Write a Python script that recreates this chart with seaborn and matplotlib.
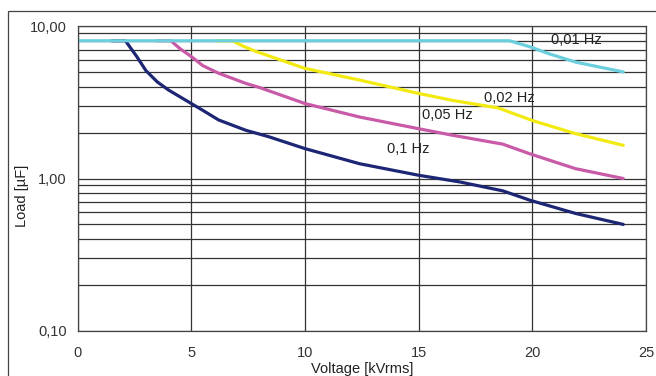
import numpy as np
import pandas as pd
import matplotlib
matplotlib.use("Agg")
import matplotlib.pyplot as plt
from matplotlib.patches import Rectangle
import seaborn as sns

# curves (voltage in kVrms, load in uF)
volt_01 = [1.5, 2.1, 2.6, 3.0, 3.5, 4.0, 5.0, 5.5, 6.2, 7.4, 8.4, 10.0, 12.4, 15.0, 16.8, 18.7, 19.9, 21.9, 24.0]
load_01 = [8.0, 8.0, 6.3, 5.1, 4.3, 3.8, 3.1, 2.8, 2.42, 2.07, 1.88, 1.57, 1.25, 1.05, 0.95, 0.83, 0.72, 0.59, 0.50]

volt_005 = [3.5, 4.1, 4.5, 5.0, 5.5, 6.2, 7.4, 8.0, 10.0, 12.4, 15.0, 16.5, 18.7, 19.9, 21.9, 24.0]
load_005 = [8.0, 8.0, 7.1, 6.3, 5.5, 4.9, 4.2, 3.95, 3.1, 2.53, 2.12, 1.92, 1.68, 1.45, 1.16, 1.0]

volt_002 = [6.1, 6.8, 7.3, 7.85, 8.5, 10.0, 12.4, 15.0, 16.5, 18.5, 20.0, 21.9, 24.0]
load_002 = [8.0, 8.0, 7.35, 6.8, 6.3, 5.27, 4.42, 3.61, 3.25, 2.9, 2.4, 1.97, 1.65]

volt_001 = [0.0, 19.0, 19.9, 20.7, 21.9, 22.9, 24.0]
load_001 = [8.0, 8.0, 7.3, 6.6, 5.8, 5.4, 5.0]

freqs = ["0,1 Hz", "0,05 Hz", "0,02 Hz", "0,01 Hz"]
colors = ["#1d2675", "#c85aa8", "#f2ea12", "#6ccfde"]
label_x = [13.6, 15.16, 17.86, 20.8]
label_y = [1.55, 2.6, 3.39, 8.1]

x_ticks = [0, 5, 10, 15, 20, 25]
y_ticks = [0.1, 1, 10]
y_tick_labels = ["0,10", "1,00", "10,00"]

frames = []
for f, v, l in zip(freqs, [volt_01, volt_005, volt_002, volt_001],
                   [load_01, load_005, load_002, load_001]):
    frames.append(pd.DataFrame({"voltage": v, "load": l, "freq": f}))
df = pd.concat(frames, ignore_index=True)

sns.set_style("white")
plt.rcParams["font.family"] = ["Liberation Sans", "DejaVu Sans"]

fig = plt.figure(figsize=(6.56, 3.76), dpi=100)
ax = fig.add_axes([77.7 / 656, 1 - 331 / 376, (646 - 77.7) / 656, (331 - 26) / 376])

grid_c = "#333333"
fs = 10.5
ax.set_yscale("log")
ax.set_xlim(0, 25)
ax.set_ylim(0.1, 10)
ax.set_xticks(x_ticks)
ax.set_yticks(y_ticks)
ax.set_yticklabels(y_tick_labels)
ax.grid(which="major", axis="x", color=grid_c, lw=0.9)
ax.grid(which="both", axis="y", color=grid_c, lw=0.9)
ax.set_axisbelow(True)

sns.lineplot(data=df, x="voltage", y="load", hue="freq", hue_order=freqs,
             palette=dict(zip(freqs, colors)), estimator=None, sort=False,
             legend=False, lw=2.3, ax=ax)
for ln in ax.get_lines():
    ln.set_solid_joinstyle("round")

for f, tx, ty in zip(freqs, label_x, label_y):
    ax.text(tx, ty, f, ha="left", va="center", fontsize=fs, color="#222222")

ax.tick_params(axis="x", which="major", direction="out", length=4, width=0.9,
               color=grid_c, pad=7, labelsize=fs, labelcolor="#333333")
ax.tick_params(axis="y", which="major", direction="out", length=5, width=0.9,
               color=grid_c, pad=3, labelsize=fs, labelcolor="#333333")
ax.tick_params(axis="y", which="minor", length=0)
for s in ax.spines.values():
    s.set_color("#444444")
    s.set_linewidth(0.9)

ax.set_xlabel("")
ax.set_ylabel("")
fig.text(362 / 656, 1 - 369 / 376, "Voltage [kVrms]", ha="center", va="center",
         fontsize=fs, color="#222222")
fig.text(22 / 656, 1 - 196 / 376, "Load [µF]", ha="center", va="center",
         rotation=90, fontsize=fs, color="#222222")

# outer chart frame (runs off the right and bottom edges)
fig.add_artist(Rectangle((8 / 656, -0.1), 2, 1.1 - 11 / 376, transform=fig.transFigure,
                         fill=False, ec="#444444", lw=0.9))

fig.savefig("out.png", dpi=100)
